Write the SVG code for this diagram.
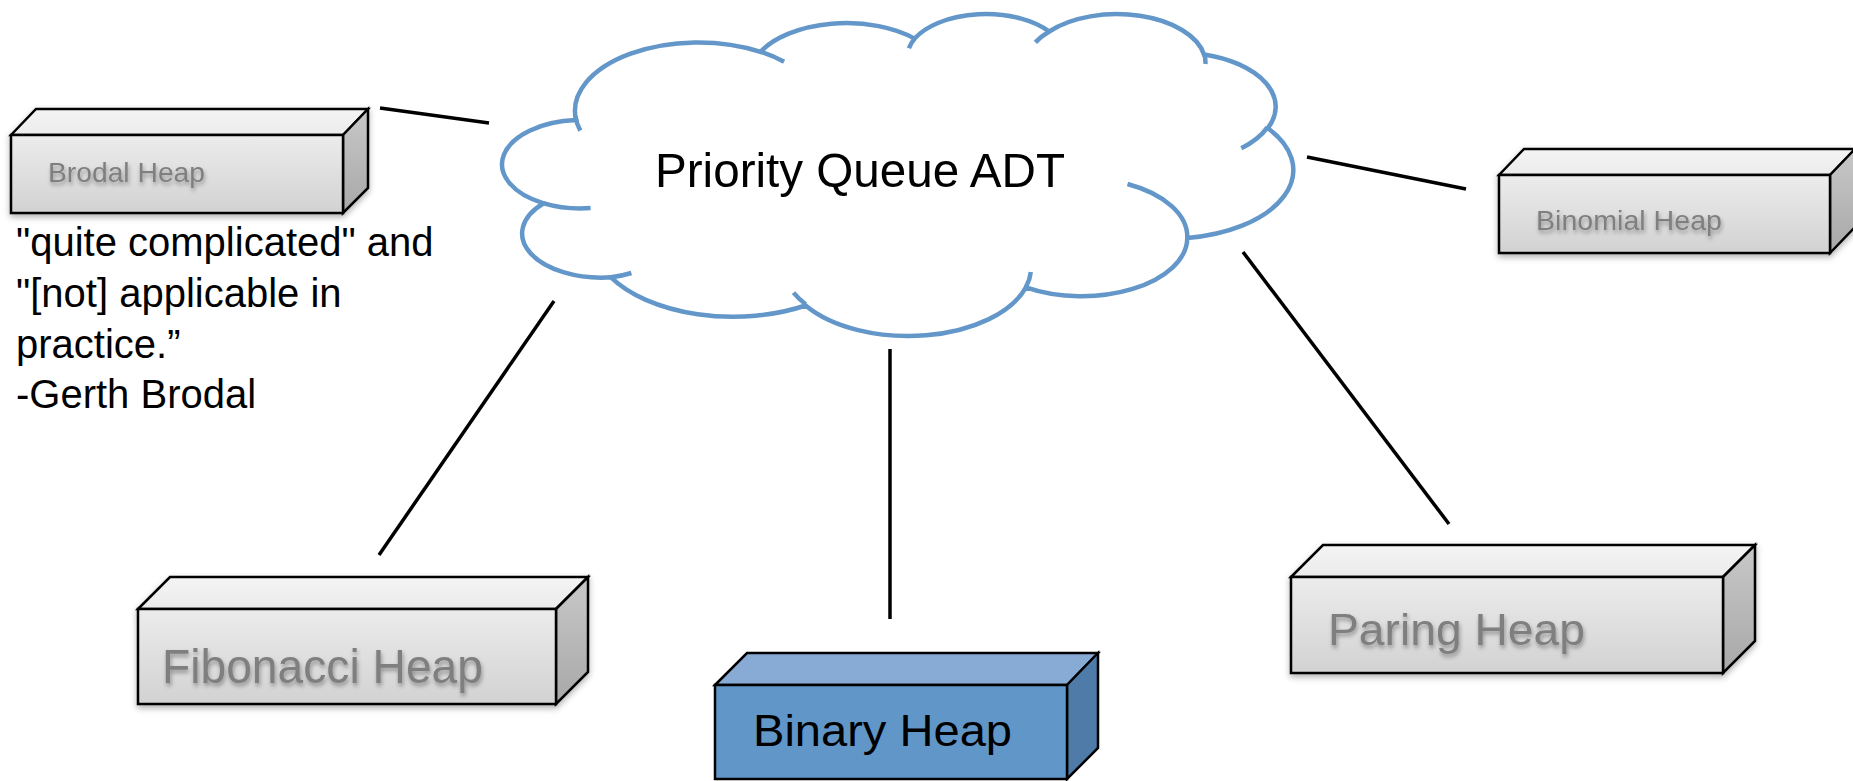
<svg xmlns="http://www.w3.org/2000/svg" width="1853" height="781" viewBox="0 0 1853 781">
<defs>
<linearGradient id="gFront" x1="0" y1="0" x2="0" y2="1"><stop offset="0" stop-color="#ececec"/><stop offset="1" stop-color="#d2d2d2"/></linearGradient>
<linearGradient id="gTop" x1="0" y1="0" x2="0" y2="1"><stop offset="0" stop-color="#f4f4f4"/><stop offset="1" stop-color="#ebebeb"/></linearGradient>
<linearGradient id="gSide" x1="0" y1="0" x2="0" y2="1"><stop offset="0" stop-color="#c8c8c8"/><stop offset="1" stop-color="#a8a8a8"/></linearGradient>
<filter id="txtShadow" x="-10%" y="-30%" width="120%" height="180%"><feDropShadow dx="1" dy="3" stdDeviation="2" flood-color="#000" flood-opacity="0.35"/></filter>
<filter id="boxShadow" x="-5%" y="-10%" width="115%" height="130%"><feDropShadow dx="0" dy="3" stdDeviation="3" flood-color="#000" flood-opacity="0.3"/></filter>
</defs>
<style>
.edge{stroke:#000;stroke-width:3.5;fill:none}
.box path,.box rect{stroke:#000;stroke-width:2.5;stroke-linejoin:miter}
.gray .front{fill:url(#gFront)}
.gray .top{fill:url(#gTop)}
.gray .side{fill:url(#gSide)}
.gray text{fill:#7f7f7f;font-family:"Liberation Sans",Arial,sans-serif;filter:url(#txtShadow)}
.blue .front{fill:#6196c9}
.blue .top{fill:#87abd5}
.blue .side{fill:#4e7ba8}
.cloud{fill:#fff;stroke:#6397c9;stroke-width:4.5}
.hook{fill:none;stroke:#6397c9;stroke-width:4.5}
.lbl{font-family:"Liberation Sans",Arial,sans-serif;fill:#000}
</style>
<rect width="1853" height="781" fill="#fff"/>
<g id="connectors">
<line class="edge" x1="380" y1="108" x2="489" y2="123"/>
<line class="edge" x1="1307" y1="157" x2="1466" y2="189"/>
<line class="edge" x1="554" y1="301" x2="379" y2="555"/>
<line class="edge" x1="890" y1="349" x2="890" y2="619"/>
<line class="edge" x1="1243" y1="252" x2="1449" y2="524"/>
</g>
<g id="priority-queue">
<path class="cloud" d="M576.1,120.1 A123.2,68.5 0 0 1 760.5,51.8 A97.3,54.1 0 0 1 914.6,38.6 A79.6,44.3 0 0 1 1049.2,31.5 A88.6,49.1 0 0 1 1204,54.5 A97.3,54.2 0 0 1 1267.8,128.2 A123.6,68.7 0 0 1 1187.3,238 A105.5,58.6 0 0 1 1025.9,287.3 A123.2,68.7 0 0 1 805.6,305.5 A140.8,78.5 0 0 1 611,277.3 A79.5,44.1 0 0 1 543.7,203.3 A79.3,44.3 0 0 1 576.1,120.1 Z"/>
<path class="hook" d="M590.6,208 A79.3,44.3 0 0 1 543.7,203.3 M631.4,273 A79.5,44.1 0 0 1 611,277.3 M805.6,304.2 A123.2,68.7 0 0 1 793.5,292.6 M1030.8,271.9 A123.2,68.7 0 0 1 1025.9,287.3 M1127.5,184 A105.5,58.6 0 0 1 1187.3,238 M1267.4,127.4 A97.3,54.2 0 0 1 1241.3,148.2 M1204,53.4 A88.6,49.1 0 0 1 1205.4,64 M1035.4,42.4 A88.6,49.1 0 0 1 1049.2,31.5 M908.9,48.2 A79.6,44.3 0 0 1 914.6,38.6 M760.4,51.7 A123.2,68.5 0 0 1 784.1,61.8 M580.3,130.6 A123.2,68.5 0 0 1 575.4,116.2"/>
<text class="lbl" x="655" y="187" font-size="49" textLength="410" lengthAdjust="spacingAndGlyphs">Priority Queue ADT</text>
</g>
<g id="brodal-heap" class="box gray">
<g filter="url(#boxShadow)">
<path class="top" d="M11,135 L36,109 L368,109 L343,135 Z"/>
<path class="side" d="M343,135 L368,109 L368,188 L343,213 Z"/>
<rect class="front" x="11" y="135" width="332" height="78"/>
</g>
<text x="48" y="182" font-size="28" textLength="157" lengthAdjust="spacingAndGlyphs">Brodal Heap</text>
</g>
<g id="brodal-quote">
<text class="lbl" font-size="40"><tspan x="16" y="256">"quite complicated" and</tspan><tspan x="16" y="307">"[not] applicable in</tspan><tspan x="16" y="358">practice.”</tspan><tspan x="16" y="408">-Gerth Brodal</tspan></text>
</g>
<g id="binomial-heap" class="box gray">
<g filter="url(#boxShadow)">
<path class="top" d="M1499,175 L1524,149 L1855,149 L1830,175 Z"/>
<path class="side" d="M1830,175 L1855,149 L1855,227 L1830,253 Z"/>
<rect class="front" x="1499" y="175" width="331" height="78"/>
</g>
<text x="1536" y="230" font-size="28" textLength="186" lengthAdjust="spacingAndGlyphs">Binomial Heap</text>
</g>
<g id="fibonacci-heap" class="box gray">
<g filter="url(#boxShadow)">
<path class="top" d="M138,609 L170,577 L588,577 L556,609 Z"/>
<path class="side" d="M556,609 L588,577 L588,672 L556,704 Z"/>
<rect class="front" x="138" y="609" width="418" height="95"/>
</g>
<text x="162" y="683" font-size="48" textLength="321" lengthAdjust="spacingAndGlyphs">Fibonacci Heap</text>
</g>
<g id="binary-heap" class="box blue">
<path class="top" d="M715,685 L747,653 L1098,653 L1067,685 Z"/>
<path class="side" d="M1067,685 L1098,653 L1098,748 L1067,779 Z"/>
<rect class="front" x="715" y="685" width="352" height="94"/>
<text class="lbl" x="753" y="746" font-size="44" textLength="259" lengthAdjust="spacingAndGlyphs">Binary Heap</text>
</g>
<g id="paring-heap" class="box gray">
<g filter="url(#boxShadow)">
<path class="top" d="M1291,577 L1323,545 L1755,545 L1723,577 Z"/>
<path class="side" d="M1723,577 L1755,545 L1755,641 L1723,673 Z"/>
<rect class="front" x="1291" y="577" width="432" height="96"/>
</g>
<text x="1328" y="645" font-size="45" textLength="257" lengthAdjust="spacingAndGlyphs">Paring Heap</text>
</g>
</svg>
